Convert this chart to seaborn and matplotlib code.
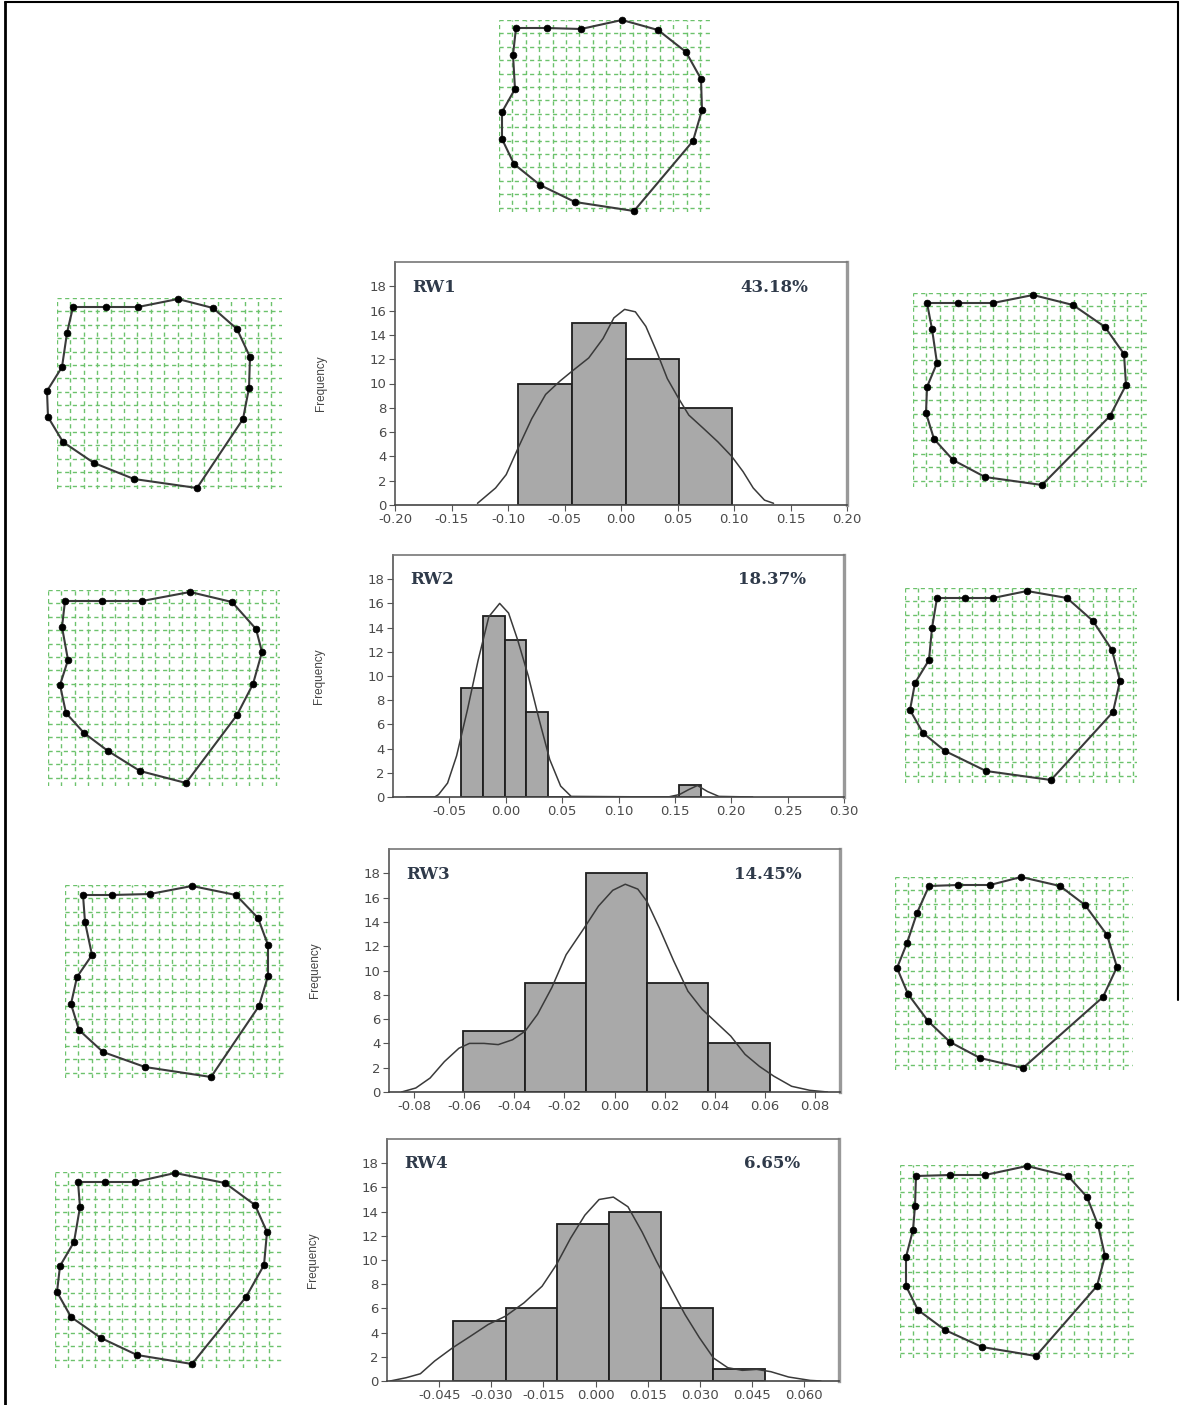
import matplotlib
matplotlib.use("Agg")
import matplotlib.pyplot as plt
from matplotlib.ticker import MultipleLocator
from matplotlib.lines import Line2D
import seaborn as sns

W, H = 1184, 1405

# Relative warp histograms: bin edges, counts, density curve
rw_names = ["RW1", "RW2", "RW3", "RW4"]
rw_percent = ["43.18%", "18.37%", "14.45%", "6.65%"]

rw1_edges = [-0.091, -0.0435, 0.004, 0.051, 0.098]
rw1_counts = [10, 15, 12, 8]
rw2_edges = [-0.0395, -0.0202, -0.0009, 0.0184, 0.0377, 0.0570, 0.0763,
             0.0956, 0.1149, 0.1342, 0.1535, 0.1728]
rw2_counts = [9, 15, 13, 7, 0, 0, 0, 0, 0, 0, 1]
rw3_edges = [-0.0604, -0.0357, -0.0114, 0.0129, 0.0374, 0.0621]
rw3_counts = [5, 9, 18, 9, 4]
rw4_edges = [-0.0409, -0.0259, -0.0110, 0.0039, 0.0188, 0.0339, 0.0488]
rw4_counts = [5, 6, 13, 14, 6, 1]

rw1_curve_x = [-0.127, -0.111, -0.1016, -0.091, -0.079, -0.0667, -0.054, -0.0435,
               -0.0286, -0.0159, -0.0063, 0.0032, 0.0127, 0.022, 0.0317, 0.041,
               0.0508, 0.060, 0.073, 0.0857, 0.098, 0.108, 0.117, 0.127, 0.135]
rw1_curve_y = [0.14, 1.4, 2.5, 4.7, 7.1, 9.1, 10.2, 11.0, 12.1, 13.7, 15.4, 16.1,
               15.9, 14.7, 12.6, 10.4, 8.8, 7.4, 6.3, 5.2, 4.0, 2.75, 1.4, 0.4, 0.14]
rw2_curve_x = [-0.088, -0.063, -0.0596, -0.0516, -0.0436, -0.034, -0.0245, -0.015,
               -0.0054, 0.0025, 0.0105, 0.020, 0.0296, 0.039, 0.0487, 0.058,
               0.144, 0.154, 0.162, 0.170, 0.179, 0.189, 0.219]
rw2_curve_y = [0, 0, 0.2, 1.15, 3.4, 7.2, 11.3, 14.9, 16.0, 15.2, 13.0, 10.0,
               6.4, 3.1, 0.9, 0.05, 0, 0.2, 0.6, 0.95, 0.45, 0.05, 0]
rw3_curve_x = [-0.085, -0.0793, -0.0736, -0.0679, -0.0621, -0.0579, -0.0521, -0.0464,
               -0.0407, -0.0357, -0.0307, -0.025, -0.0193, -0.0121, -0.0064, -0.0007,
               0.0043, 0.0093, 0.0129, 0.0179, 0.0236, 0.0293, 0.035, 0.0407, 0.0464,
               0.0521, 0.0579, 0.0636, 0.0707, 0.0779, 0.085]
rw3_curve_y = [0, 0.33, 1.15, 2.5, 3.6, 4.0, 4.0, 3.9, 4.3, 5.0, 6.4, 8.6, 11.3,
               13.5, 15.3, 16.6, 17.1, 16.7, 15.7, 13.5, 10.8, 8.3, 6.8, 5.7, 4.6,
               3.1, 2.1, 1.3, 0.47, 0.14, 0]
rw4_curve_x = [-0.0591, -0.0545, -0.0504, -0.0463, -0.0411, -0.036, -0.0309, -0.0259,
               -0.0206, -0.0154, -0.0113, -0.0072, -0.0031, 0.001, 0.0051, 0.0093,
               0.0134, 0.0175, 0.0216, 0.0257, 0.0298, 0.0339, 0.038, 0.0422, 0.0463,
               0.0504, 0.0555, 0.0617, 0.0648]
rw4_curve_y = [0, 0.27, 0.6, 1.65, 2.75, 3.7, 4.67, 5.36, 6.46, 7.83, 9.6, 11.8,
               13.7, 15.0, 15.2, 14.4, 12.3, 9.9, 7.7, 5.5, 3.6, 1.9, 1.1, 0.88,
               0.96, 0.77, 0.33, 0.05, 0]

rw1_ticks = [-0.20, -0.15, -0.10, -0.05, 0.00, 0.05, 0.10, 0.15, 0.20]
rw1_labels = ["-0.20", "-0.15", "-0.10", "-0.05", "0.00", "0.05", "0.10", "0.15", "0.20"]
rw2_ticks = [-0.05, 0.00, 0.05, 0.10, 0.15, 0.20, 0.25, 0.30]
rw2_labels = ["-0.05", "0.00", "0.05", "0.10", "0.15", "0.20", "0.25", "0.30"]
rw3_ticks = [-0.08, -0.06, -0.04, -0.02, 0.00, 0.02, 0.04, 0.06, 0.08]
rw3_labels = ["-0.08", "-0.06", "-0.04", "-0.02", "0.00", "0.02", "0.04", "0.06", "0.08"]
rw4_ticks = [-0.045, -0.030, -0.015, 0.000, 0.015, 0.030, 0.045, 0.060]
rw4_labels = ["-0.045", "-0.030", "-0.015", "0.000", "0.015", "0.030", "0.045", "0.060"]
rw_xlims = [(-0.20, 0.20), (-0.10, 0.30), (-0.09, 0.09), (-0.06, 0.07)]

# Landmark configurations (17 landmarks, local grid units, y downwards)
top_x = [17, 48, 82, 123, 159, 187, 202, 203, 194, 135, 76, 41, 15, 3, 3, 16, 14]
top_y = [8, 8, 9, 0, 10, 32, 59, 90, 121, 191, 182, 165, 144, 119, 92, 69, 35]
l1_x = [16, 49, 81, 121, 156, 180, 193, 192, 186, 140, 77, 37, 6, -9, -10, 5, 10]
l1_y = [9, 9, 9, 1, 10, 31, 59, 90, 121, 190, 181, 165, 144, 119, 93, 69, 35]
r1_x = [14, 45, 80, 120, 160, 192, 211, 213, 197, 129, 72, 40, 21, 13, 14, 24, 19]
r1_y = [10, 10, 10, 2, 12, 34, 61, 92, 123, 192, 184, 167, 146, 120, 94, 70, 36]
l2_x = [17, 54, 94, 142, 184, 208, 214, 205, 189, 138, 92, 60, 36, 18, 12, 20, 14]
l2_y = [11, 11, 11, 2, 12, 39, 62, 94, 125, 193, 181, 161, 143, 123, 95, 70, 37]
r2_x = [32, 60, 88, 122, 162, 188, 207, 215, 208, 146, 81, 40, 18, 5, 10, 24, 27]
r2_y = [10, 10, 10, 3, 10, 33, 62, 93, 124, 192, 183, 163, 145, 122, 95, 72, 40]
l3_x = [18, 47, 85, 127, 171, 193, 203, 203, 194, 146, 80, 38, 14, 6, 12, 27, 20]
l3_y = [10, 10, 9, 1, 10, 33, 60, 91, 121, 192, 182, 167, 145, 119, 92, 70, 37]
r3_x = [34, 63, 95, 126, 165, 190, 212, 222, 208, 128, 85, 55, 33, 13, 2, 12, 22]
r3_y = [9, 8, 8, 0, 9, 28, 58, 90, 120, 191, 181, 165, 144, 117, 91, 66, 36]
l4_x = [23, 50, 80, 120, 170, 200, 212, 209, 191, 137, 82, 46, 16, 2, 5, 19, 25]
l4_y = [10, 10, 10, 1, 11, 33, 60, 93, 125, 192, 183, 166, 145, 120, 94, 70, 35]
r4_x = [16, 50, 85, 127, 168, 187, 198, 205, 197, 136, 82, 45, 18, 6, 6, 13, 15]
r4_y = [11, 10, 10, 1, 11, 32, 60, 91, 121, 191, 182, 165, 145, 121, 92, 65, 41]

sns.set_theme(style="white")
plt.rcParams["font.family"] = ["DejaVu Sans"]

fig = plt.figure(figsize=(W / 100, H / 100), dpi=100)


def px_axes(x0, y0, w, h):
    return fig.add_axes([x0 / W, 1 - (y0 + h) / H, w / W, h / H])


def draw_shape(box, xs, ys):
    ax = px_axes(*box)
    w, h = box[2], box[3]
    ax.set_xlim(0, w)
    ax.set_ylim(h, 0)
    ax.xaxis.set_major_locator(MultipleLocator(13.4))
    ax.yaxis.set_major_locator(MultipleLocator(13.4))
    ax.grid(True, color="#6cc26c", linestyle=(0, (3, 2.5)), linewidth=1.0)
    ax.tick_params(length=0, labelbottom=False, labelleft=False)
    for s in ax.spines.values():
        s.set_visible(False)
    ax.patch.set_alpha(0)
    sns.lineplot(x=xs + xs[:1], y=ys + ys[:1], sort=False, estimator=None,
                 color="#3a3a3a", linewidth=1.5, ax=ax)
    ax.lines[-1].set_clip_on(False)
    sns.scatterplot(x=xs, y=ys, color="black", s=24, edgecolor="black",
                    linewidth=0.5, ax=ax, zorder=3, clip_on=False)
    ax.set_xlabel("")
    ax.set_ylabel("")


def draw_hist(box, edges, counts, cx, cy, ticks, labels, xlim, name, pct):
    ax = px_axes(*box)
    centers = [(a + b) / 2 for a, b in zip(edges[:-1], edges[1:])]
    sns.histplot(x=centers, weights=counts, bins=list(edges), color="#a9a9a9",
                 edgecolor="#1e1e1e", linewidth=1.3, alpha=1, ax=ax)
    sns.lineplot(x=cx, y=cy, color="#3a3a3a", linewidth=1.1, ax=ax)
    ax.set_xlim(*xlim)
    ax.set_ylim(0, 20)
    ax.set_yticks(range(0, 19, 2))
    ax.set_xticks(ticks, labels)
    ax.tick_params(direction="out", length=4, width=0.8, color="#555555",
                   labelsize=9.5, labelcolor="#4a4a4a", pad=2,
                   bottom=True, left=True)
    ax.set_xlabel("")
    ax.set_ylabel("Frequency", family="Liberation Sans", fontsize=8.5,
                  color="#444444")
    ax.yaxis.set_label_coords(-0.15, 0.5)
    ax.spines["left"].set_color("#555555")
    ax.spines["bottom"].set_color("#444444")
    ax.spines["top"].set_color("#777777")
    ax.spines["right"].set_color("#999999")
    for side in ["left", "bottom", "top"]:
        ax.spines[side].set_linewidth(1.2)
    ax.spines["right"].set_linewidth(2.4)
    ax.text(0.038, 0.897, name, transform=ax.transAxes, ha="left", va="center",
            family="DejaVu Serif", fontweight="bold", fontsize=12,
            color="#2f3a4a")
    ax.text(0.915, 0.897, pct, transform=ax.transAxes, ha="right", va="center",
            family="DejaVu Serif", fontweight="bold", fontsize=12,
            color="#2f3a4a")


# shapes: consensus on top, negative / positive extremes on each side
shape_boxes = [(499, 20, 214, 192),
               (57, 298, 225, 191), (913, 293, 235, 194),
               (48, 590, 232, 196), (905, 588, 232, 195),
               (65, 885, 222, 193), (895, 877, 238, 193),
               (55, 1172, 227, 196), (900, 1165, 237, 193)]
shape_xs = [top_x, l1_x, r1_x, l2_x, r2_x, l3_x, r3_x, l4_x, r4_x]
shape_ys = [top_y, l1_y, r1_y, l2_y, r2_y, l3_y, r3_y, l4_y, r4_y]
for box, xs, ys in zip(shape_boxes, shape_xs, shape_ys):
    draw_shape(box, xs, ys)

hist_boxes = [(395, 262, 452, 243), (393, 555, 451, 242),
              (389, 849, 451, 243), (387, 1139, 452, 242)]
hist_edges = [rw1_edges, rw2_edges, rw3_edges, rw4_edges]
hist_counts = [rw1_counts, rw2_counts, rw3_counts, rw4_counts]
curve_xs = [rw1_curve_x, rw2_curve_x, rw3_curve_x, rw4_curve_x]
curve_ys = [rw1_curve_y, rw2_curve_y, rw3_curve_y, rw4_curve_y]
tick_vals = [rw1_ticks, rw2_ticks, rw3_ticks, rw4_ticks]
tick_labels = [rw1_labels, rw2_labels, rw3_labels, rw4_labels]
for i in range(4):
    draw_hist(hist_boxes[i], hist_edges[i], hist_counts[i], curve_xs[i],
              curve_ys[i], tick_vals[i], tick_labels[i], rw_xlims[i],
              rw_names[i], rw_percent[i])

# outer frame of the figure (open at the bottom, right side stops part way)
fig.add_artist(Line2D([5 / W, 5 / W], [0, 1 - 2 / H], color="black", lw=2))
fig.add_artist(Line2D([5 / W, 1178 / W], [1 - 2 / H, 1 - 2 / H], color="black", lw=1.5))
fig.add_artist(Line2D([1178 / W, 1178 / W], [1 - 1000 / H, 1 - 2 / H], color="black", lw=1.5))

fig.savefig("out.png", dpi=100)
